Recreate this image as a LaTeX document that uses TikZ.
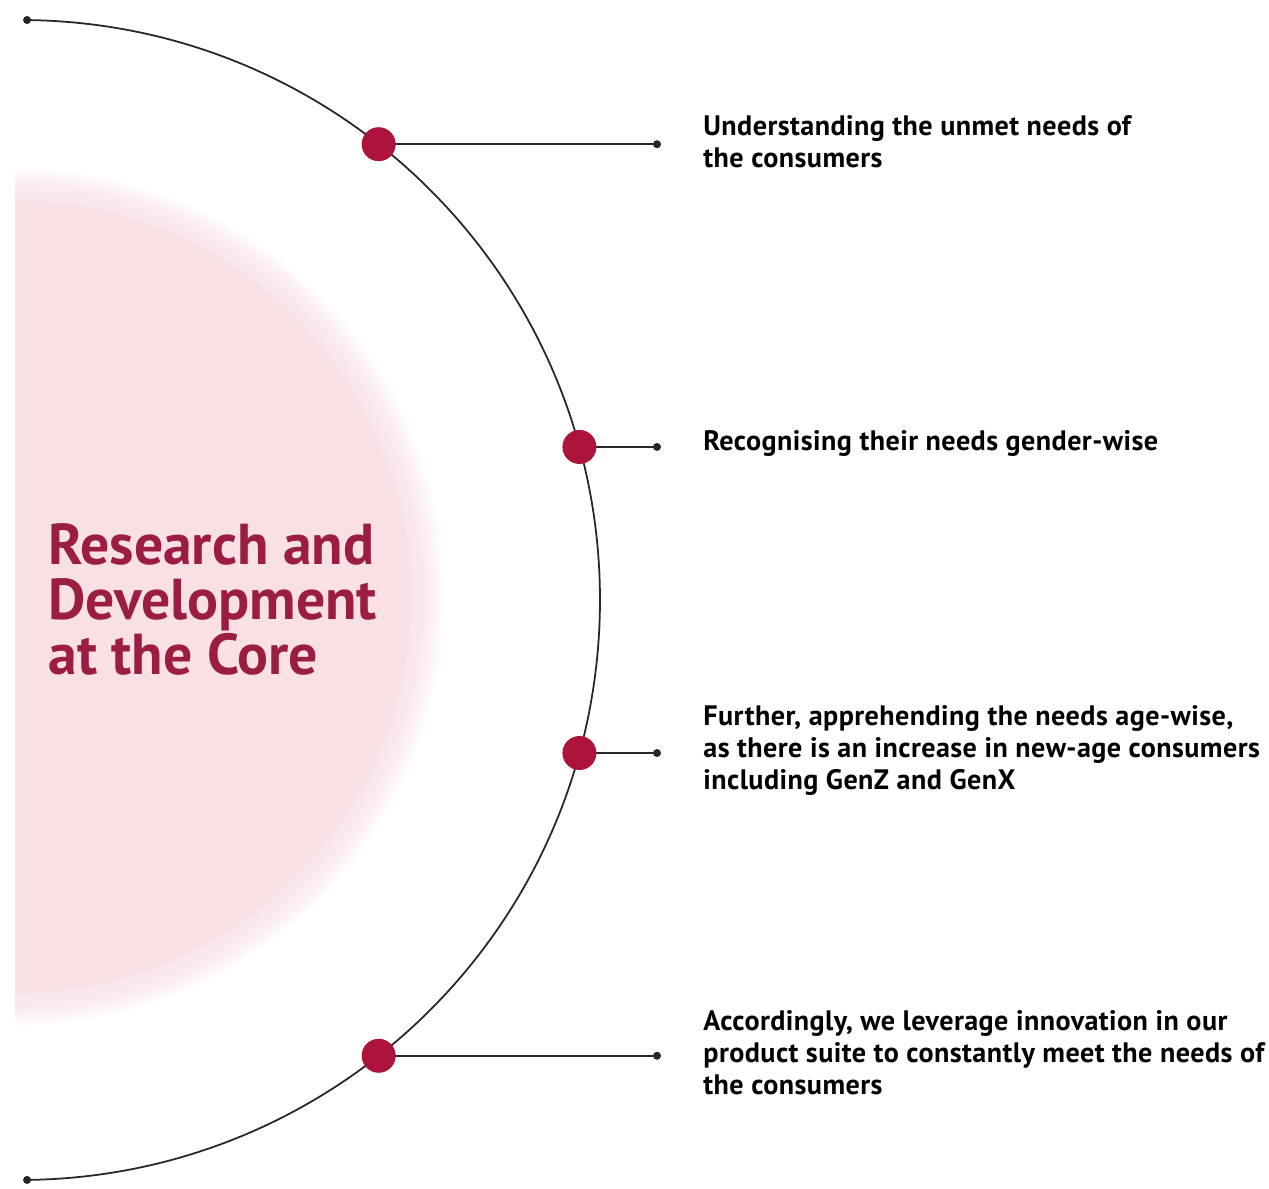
\documentclass[tikz,border=0pt]{standalone}
\usepackage{fontspec}
\setmainfont{PT Sans}
\usetikzlibrary{calc}
\definecolor{rdred}{RGB}{155,30,65}
\definecolor{rddot}{RGB}{172,20,60}
\definecolor{rdpink}{RGB}{248,224,228}

\begin{document}
\begin{tikzpicture}[x=0.01cm,y=0.01cm,
    bigdot/.style={circle,fill=rddot,minimum size=0.34cm,inner sep=0pt},
    enddot/.style={circle,fill=black!85,minimum size=0.08cm,inner sep=0pt},
    thin line/.style={draw=black!85,line width=0.5pt},
    item/.style={anchor=west,align=left,font=\fontsize{8}{9.1}\selectfont\bfseries\addfontfeatures{LetterSpace=1.5}}]
  \useasboundingbox (0,0) rectangle (1269,-1189);

  % soft half disc behind the title
  \foreach \r in {428,424,...,400}{
    \fill[rdpink,opacity=0.18] (15,-597) ++(0,\r) arc (90:-90:\r) -- cycle;
  }
  \fill[rdpink] (15,-597) ++(0,396) arc (90:-90:396) -- cycle;

  \node[anchor=north west,align=left,text=rdred,
        font=\fontsize{16.4}{15.7}\selectfont\bfseries] (title) at (36,-511)
        {Research and\\Development\\at the Core};

  % the big arc
  \coordinate (c) at (20,-600);
  \draw[thin line] ($(c)+(89.3:580)$) coordinate (top) arc (89.3:-89.3:580) coordinate (bot);
  \node[enddot] (topdot) at (top) {};
  \node[enddot] (botdot) at (bot) {};

  % the four points on the arc
  \foreach \a/\k/\txt in {51.8/1/{Understanding the unmet needs of\\the consumers},
                          15.3/2/{Recognising their needs gender-wise},
                          -15.3/3/{Further, apprehending the needs age-wise,\\as there is an increase in new-age consumers\\including GenZ and GenX},
                          -51.8/4/{Accordingly, we leverage innovation in our\\product suite to constantly meet the needs of\\the consumers}}{%
    \coordinate (p\k) at ($(c)+(\a:580)$);
    \path let \p1=(p\k) in coordinate (e\k) at (657,\y1);
    \draw[thin line] (p\k) -- (e\k);
    \node[bigdot] (d\k) at (p\k) {};
    \node[enddot] (s\k) at (e\k) {};
    \node[item] (t\k) at ($(e\k)+(34,3)$) {\txt};
  }
\end{tikzpicture}
\end{document}
